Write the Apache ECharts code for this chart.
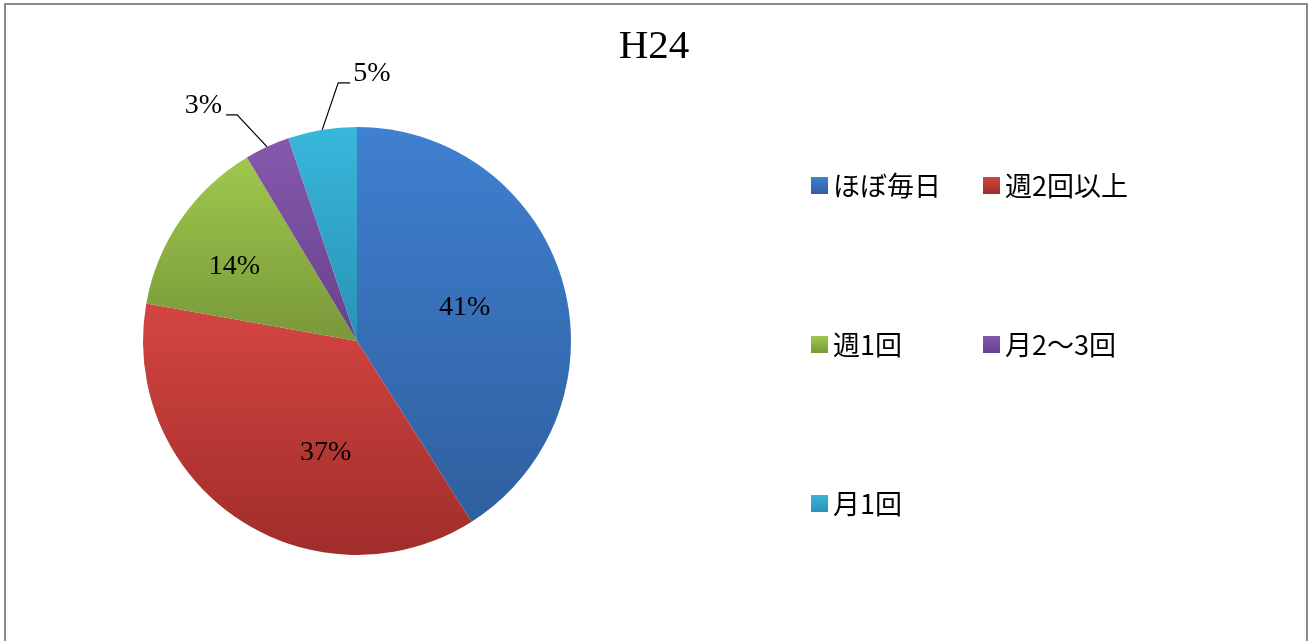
<!DOCTYPE html>
<html>
<head>
<meta charset="utf-8">
<script src="https://cdn.jsdelivr.net/npm/echarts@6/dist/echarts.min.js"></script>
<style>
  html, body { margin: 0; padding: 0; background: #fff; overflow: hidden; }
  #chart { width: 1308px; height: 641px; }
</style>
</head>
<body>
<div id="chart"></div>
<script>
// 区分
const categories = ["ほぼ毎日", "週2回以上", "週1回", "月2～3回", "月1回"];
// 割合（%）
const shares = [41.0, 36.8, 13.6, 3.4, 5.2];
const chartTitle = "H24";

// 塗り色（上→下のグラデーション）
const sliceColors = [
  ["#3f80d0", "#2f5f9f"],
  ["#d44542", "#a02d2a"],
  ["#a0c84c", "#78983a"],
  ["#8658ac", "#66428c"],
  ["#38b7dc", "#2a92b4"]
];
// 内側ラベルの微調整
const labelNudge = { 0: [2, -3], 1: [30, 20], 2: [-32, -12] };
// 外側ラベルの引出線（折れ点のずれ）
const leaderBends = { 3: [[-30, -32], [-11, 0]], 4: [[16, -47], [12, 0]] };

const chart = echarts.init(document.getElementById("chart"));

const grad = (c) => new echarts.graphic.LinearGradient(0, 0, 0, 1, [
  { offset: 0, color: c[0] },
  { offset: 1, color: c[1] }
]);

const pieData = categories.map((name, i) => {
  const item = {
    name: name,
    value: shares[i],
    itemStyle: { color: grad(sliceColors[i]) }
  };
  if (leaderBends[i]) {
    item.label = { position: "outside" };
    item.labelLine = { show: true, length: 30, length2: 10 };
  }
  return item;
});

const legendText = {
  color: "#000",
  fontFamily: "Noto Sans CJK JP",
  fontSize: 27,
  lineHeight: 26
};

const option = {
  animation: false,
  backgroundColor: "#fff",
  title: {
    text: chartTitle,
    left: "center",
    top: 27,
    padding: 0,
    textStyle: {
      fontFamily: "Liberation Serif",
      fontSize: 41,
      fontWeight: "normal",
      color: "#000"
    }
  },
  graphic: [{
    type: "rect",
    shape: { x: 5, y: 4, width: 1302, height: 700 },
    style: { fill: null, stroke: "#8a8a8a", lineWidth: 2 },
    silent: true
  }],
  legend: [
    {
      orient: "vertical",
      left: 811,
      top: 172,
      padding: 0,
      itemGap: 132,
      itemWidth: 17,
      itemHeight: 17,
      icon: "rect",
      selectedMode: false,
      textStyle: legendText,
      data: [categories[0], categories[2], categories[4]]
    },
    {
      orient: "vertical",
      left: 983,
      top: 172,
      padding: 0,
      itemGap: 132,
      itemWidth: 17,
      itemHeight: 17,
      icon: "rect",
      selectedMode: false,
      textStyle: legendText,
      data: [categories[1], categories[3]]
    }
  ],
  series: [
    {
      type: "pie",
      center: [357, 341],
      radius: 214,
      startAngle: 90,
      clockwise: true,
      avoidLabelOverlap: false,
      percentPrecision: 0,
      itemStyle: { borderWidth: 0 },
      label: {
        show: true,
        position: "inside",
        formatter: "{d}%",
        color: "#000",
        fontFamily: "Liberation Serif",
        fontSize: 28
      },
      labelLine: {
        show: false,
        lineStyle: { color: "#000", width: 1.2 }
      },
      labelLayout: (params) => {
        const bends = leaderBends[params.dataIndex];
        if (bends && params.labelLinePoints) {
          const p0 = params.labelLinePoints[0];
          const p1 = [p0[0] + bends[0][0], p0[1] + bends[0][1]];
          const p2 = [p1[0] + bends[1][0], p1[1] + bends[1][1]];
          const toRight = bends[1][0] > 0;
          return {
            x: p2[0] + (toRight ? 3 : -4),
            y: p2[1] - 9,
            align: toRight ? "left" : "right",
            verticalAlign: "middle",
            labelLinePoints: [p0, p1, p2]
          };
        }
        const n = labelNudge[params.dataIndex];
        return n ? { dx: n[0], dy: n[1] } : {};
      },
      emphasis: { disabled: true },
      data: pieData
    }
  ]
};

chart.setOption(option);
</script>
</body>
</html>
